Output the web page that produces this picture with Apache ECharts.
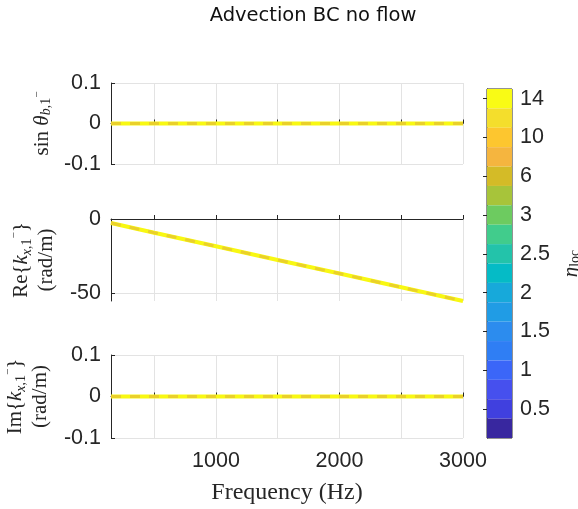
<!DOCTYPE html>
<html>
<head>
<meta charset="utf-8">
<script src="https://cdn.jsdelivr.net/npm/echarts@6/dist/echarts.min.js"></script>
<style>
  html, body { margin: 0; padding: 0; background: #ffffff; }
  #chart { width: 578px; height: 509px; }
</style>
</head>
<body>
<div id="chart"></div>
<script>
// Frequency sweep and the three computed quantities
const frequencies = [150, 500, 1000, 1500, 2000, 2500, 3000];
const sinThetaB = [0, 0, 0, 0, 0, 0, 0];
const reKx = [-2.7, -9.2, -18.3, -27.5, -36.6, -45.8, -55.0];
const imKx = [0, 0, 0, 0, 0, 0, 0];

// Tick positions / labels
const freqTicks = [500, 1000, 1500, 2000, 2500, 3000];
const freqTickLabels = [1000, 2000, 3000];
const reTicks = [-50, 0];

// Colour bar levels (top to bottom) and their labels
const etaLabels = ['14', '', '10', '', '6', '', '3', '', '2.5', '', '2', '', '1.5', '', '1', '', '0.5', ''];
const etaPalette = [
  '#f9fb15', '#f4de2c', '#fdc62f', '#f5b53f', '#d4bb27', '#a7c43a',
  '#6dcb60', '#41cc8c', '#23c3aa', '#05bbc6', '#17a9da', '#209ce5',
  '#2c8cee', '#2f7ef4', '#3b66f8', '#4650ee', '#4040df', '#38279f'
];

const SANS = 'Liberation Sans';
const SERIF = 'Liberation Serif';
const AXIS_COLOR = '#262626';
const GRID_COLOR = '#e3e3e3';
const LINE_YELLOW = '#f8f812';
const LINE_DASH = '#ead02a';
const TICK_FONT = 21.5;

const nameRich = {
  rm: { fontFamily: SERIF, fontSize: 21, color: AXIS_COLOR },
  it: { fontFamily: SERIF, fontStyle: 'italic', fontSize: 21, color: AXIS_COLOR },
  sub: { fontFamily: SERIF, fontStyle: 'italic', fontSize: 14, color: AXIS_COLOR, verticalAlign: 'bottom' },
  subrm: { fontFamily: SERIF, fontSize: 14, color: AXIS_COLOR, verticalAlign: 'bottom' },
  sup: { fontFamily: SERIF, fontSize: 11, color: AXIS_COLOR, verticalAlign: 'top' }
};

const plotGrids = [
  { left: 111, top: 83, width: 352, height: 81, outerBoundsMode: 'none' },
  { left: 111, top: 219, width: 352, height: 82, outerBoundsMode: 'none' },
  { left: 111, top: 355, width: 352, height: 83, outerBoundsMode: 'none' }
];

function xAxisFor(i) {
  const isBottom = i === 2;
  return {
    type: 'value', gridIndex: i, min: 150, max: 3000,
    axisLine: { show: true, lineStyle: { color: AXIS_COLOR, width: 1 } },
    axisTick: { show: true, inside: true, length: 4, customValues: freqTicks, lineStyle: { color: AXIS_COLOR } },
    splitLine: { show: true, lineStyle: { color: GRID_COLOR, width: 1 } },
    axisLabel: {
      show: isBottom, customValues: freqTickLabels, margin: 12,
      formatter: (v) => String(v),
      fontFamily: SANS, fontSize: TICK_FONT, color: AXIS_COLOR
    },
    name: isBottom ? 'Frequency (Hz)' : '',
    nameLocation: 'middle', nameGap: 43,
    nameTextStyle: { fontFamily: SERIF, fontSize: 24, color: AXIS_COLOR }
  };
}

const yLabelStyle = { fontFamily: SANS, fontSize: TICK_FONT, color: AXIS_COLOR, margin: 10 };
const yLineStyle = { show: true, lineStyle: { color: AXIS_COLOR, width: 1 } };

const yAxes = [
  {
    type: 'value', gridIndex: 0, min: -0.1, max: 0.1, interval: 0.1,
    axisLine: yLineStyle,
    axisTick: { show: true, inside: true, length: 4, lineStyle: { color: AXIS_COLOR } },
    splitLine: { show: true, lineStyle: { color: GRID_COLOR } },
    axisLabel: yLabelStyle,
    name: '{rm|sin }{it|θ}{sub|b,}{subrm|1}{sup|−}',
    nameLocation: 'middle', nameRotate: 90, nameGap: 55,
    nameTextStyle: { rich: nameRich, fontFamily: SERIF, fontSize: 21, color: AXIS_COLOR }
  },
  {
    type: 'value', gridIndex: 1, min: -55, max: 0,
    axisLine: yLineStyle,
    axisTick: { show: true, inside: true, length: 4, customValues: reTicks, lineStyle: { color: AXIS_COLOR } },
    splitLine: { show: true, lineStyle: { color: GRID_COLOR } },
    axisLabel: Object.assign({ customValues: reTicks }, yLabelStyle),
    name: '{rm|Re{}{it|k}{sub|x,}{subrm|1}{sup|−}}\n{rm|(rad/m)}',
    nameLocation: 'middle', nameRotate: 90, nameGap: 45,
    nameTextStyle: { rich: nameRich, fontFamily: SERIF, fontSize: 21, color: AXIS_COLOR, lineHeight: 25 }
  },
  {
    type: 'value', gridIndex: 2, min: -0.1, max: 0.1, interval: 0.1,
    axisLine: yLineStyle,
    axisTick: { show: true, inside: true, length: 4, lineStyle: { color: AXIS_COLOR } },
    splitLine: { show: true, lineStyle: { color: GRID_COLOR } },
    axisLabel: yLabelStyle,
    name: '{rm|Im{}{it|k}{sub|x,}{subrm|1}{sup|−}}\n{rm|(rad/m)}',
    nameLocation: 'middle', nameRotate: 90, nameGap: 45,
    nameTextStyle: { rich: nameRich, fontFamily: SERIF, fontSize: 21, color: AXIS_COLOR, lineHeight: 25 }
  },
  // colour bar axis
  {
    type: 'category', gridIndex: 3, position: 'right', inverse: true,
    data: etaLabels,
    axisLine: { show: true, lineStyle: { color: AXIS_COLOR } },
    axisTick: {
      show: true, inside: true, length: 4, alignWithLabel: true,
      interval: (idx) => etaLabels[idx] !== '',
      lineStyle: { color: AXIS_COLOR }
    },
    axisLabel: { interval: 0, margin: 8, fontFamily: SANS, fontSize: TICK_FONT, color: AXIS_COLOR },
    splitLine: { show: false },
    name: '{it|η}{subrm|loc}',
    nameLocation: 'middle', nameRotate: 90, nameGap: 49,
    nameTextStyle: { rich: nameRich, fontFamily: SERIF, fontSize: 21, color: AXIS_COLOR }
  }
];

function pairs(ys) {
  return frequencies.map((f, k) => [f, ys[k]]);
}

function curveSeries(i, ys) {
  return [
    {
      type: 'line', xAxisIndex: i, yAxisIndex: i, data: pairs(ys),
      showSymbol: false, clip: false, silent: true,
      lineStyle: { color: LINE_YELLOW, width: 4 }
    },
    {
      type: 'line', xAxisIndex: i, yAxisIndex: i, data: pairs(ys),
      showSymbol: false, clip: false, silent: true,
      lineStyle: { color: LINE_DASH, width: 3, type: [10, 9] }
    }
  ];
}

const chart = echarts.init(document.getElementById('chart'), null, { renderer: 'canvas' });

chart.setOption({
  animation: false,
  backgroundColor: '#ffffff',
  title: {
    text: 'Advection BC no flow',
    left: 308, top: 1, textAlign: 'center',
    textStyle: { fontFamily: 'DejaVu Sans', fontWeight: 'normal', fontSize: 19.5, color: '#111111' }
  },
  grid: plotGrids.concat([
    {
      left: 487, top: 89, width: 25, height: 349, outerBoundsMode: 'none',
      show: true, borderColor: AXIS_COLOR, borderWidth: 1, backgroundColor: 'transparent'
    }
  ]),
  xAxis: [xAxisFor(0), xAxisFor(1), xAxisFor(2), {
    type: 'value', gridIndex: 3, min: 0, max: 1, show: false
  }],
  yAxis: yAxes,
  series: [].concat(
    curveSeries(0, sinThetaB),
    curveSeries(1, reKx),
    curveSeries(2, imKx),
    [{
      type: 'bar', xAxisIndex: 3, yAxisIndex: 3,
      barWidth: '100%', barCategoryGap: '0%', silent: true,
      data: etaLabels.map((_, k) => ({ value: 1, itemStyle: { color: etaPalette[k] } }))
    }]
  )
});
</script>
</body>
</html>
